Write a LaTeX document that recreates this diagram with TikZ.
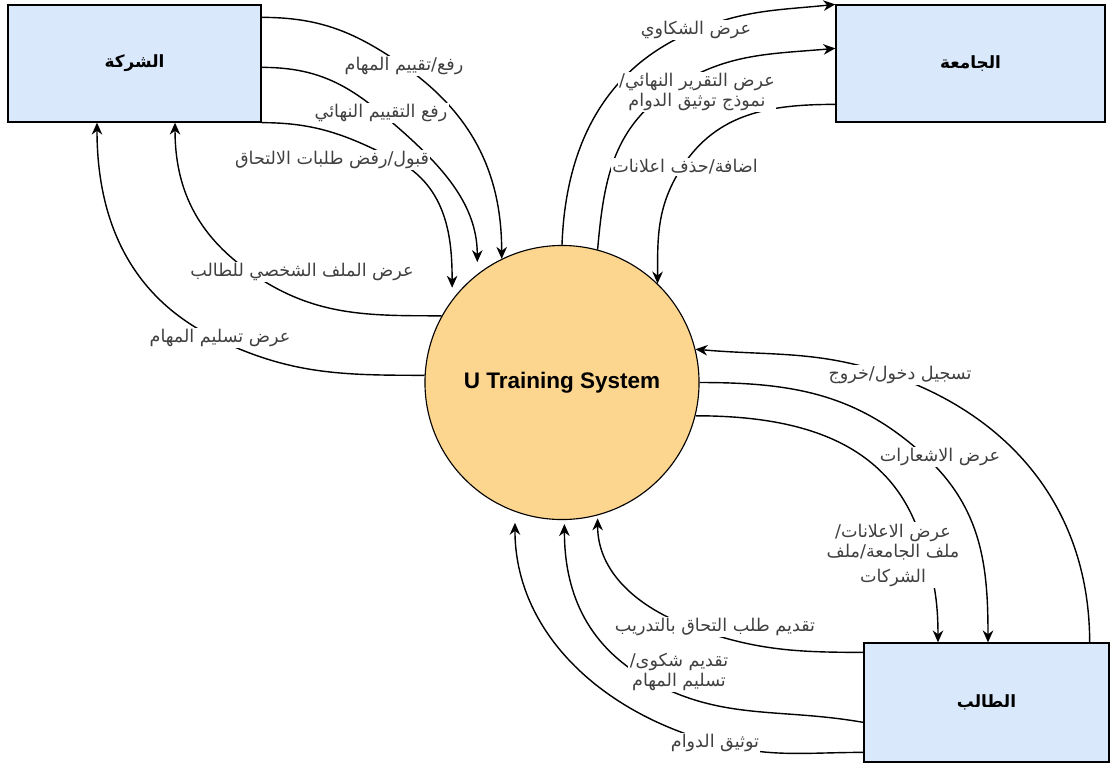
\documentclass[tikz,border=0pt]{standalone}
\usepackage{fontspec}
\setmainfont{Liberation Sans}
\newfontfamily\arabicfont[Script=Arabic]{DejaVu Sans}
\TeXXeTstate=1
\usetikzlibrary{arrows.meta,backgrounds}
\definecolor{entityblue}{RGB}{218,232,252}
\definecolor{processorange}{RGB}{252,213,143}
\newcommand{\artext}[1]{{\arabicfont\beginR #1\endR}}
\begin{document}
\begin{tikzpicture}[x=0.025cm,y=0.025cm,
    entity/.style={draw,fill=entityblue,line width=0.9pt,font=\arabicfont\bfseries\fontsize{12}{14}\selectfont},
    process/.style={draw,circle,fill=processorange,line width=0.8pt,inner sep=0pt,minimum size=6.85cm,font=\bfseries\fontsize{16}{19}\selectfont},
    flowlabel/.style={fill=white,inner sep=1pt,align=center,text=black!75,font=\arabicfont\fontsize{12.5}{14.5}\selectfont},
    flow/.style={line width=1pt,-{Stealth[length=8.5pt,width=7.5pt]}}]
    \useasboundingbox (0,0) rectangle (1111,-765);
    \node[entity,minimum width=6.325cm,minimum height=2.925cm] (co) at (134.5,-63.5) {\artext{الشركة}};
    \node[entity,minimum width=6.725cm,minimum height=2.925cm] (uni) at (970.5,-63.5) {\artext{الجامعة}};
    \node[entity,minimum width=6.125cm,minimum height=2.975cm] (stu) at (986.5,-702.5) {\artext{الطالب}};
    \node[process] (sys) at (562,-382.5) {U Training System};
    \node[flowlabel] (l1) at (404,-66) {\artext{رفع/تقييم المهام}};
    \node[flowlabel] (l2) at (381,-113) {\artext{رفع التقييم النهائي}};
    \node[flowlabel] (l3) at (332,-160) {\artext{قبول/رفض طلبات الالتحاق}};
    \node[flowlabel] (l4) at (302,-272) {\artext{عرض الملف الشخصي للطالب}};
    \node[flowlabel] (l5) at (220,-338) {\artext{عرض تسليم المهام}};
    \node[flowlabel] (l6) at (696,-30) {\artext{عرض الشكاوي}};
    \node[flowlabel] (l7) at (697,-92) {\artext{عرض التقرير النهائي/}\\\artext{نموذج توثيق الدوام}};
    \node[flowlabel] (l8) at (685,-167) {\artext{اضافة/حذف اعلانات}};
    \node[flowlabel] (l9) at (900,-375) {\artext{تسجيل دخول/خروج}};
    \node[flowlabel] (l10) at (940,-457) {\artext{عرض الاشعارات}};
    \node[flowlabel] (l11) at (893,-555) {\artext{عرض الاعلانات/}\\\artext{ملف الجامعة/ملف}\\[3pt]\artext{الشركات}};
    \node[flowlabel] (l12) at (715,-627) {\artext{تقديم طلب التحاق بالتدريب}};
    \node[flowlabel] (l13) at (679,-672) {\artext{تقديم شكوى/}\\\artext{تسليم المهام}};
    \node[flowlabel] (l14) at (715,-743) {\artext{توثيق الدوام}};
    \begin{scope}[on background layer]
        \draw[flow] ([yshift=-0.325cm]co.north east) to[out=0,in=145] (l1.center) to[out=-35,in=90] (sys.116);
        \draw[flow,shorten >=0.3cm] ([yshift=-1.575cm]co.north east) to[out=0,in=140] (l2.center) to[out=-40,in=90] (sys.128);
        \draw[flow,shorten >=0.3cm] (co.south east) to[out=0,in=153] ([xshift=1.6cm]l3.center) to[out=-27,in=90] (sys.143);
        \draw[flow] (sys.151) to[out=180,in=-35] ([xshift=-1.3cm]l4.center) to[out=145,in=-90] ([xshift=1.0125cm]co.south);
        \draw[flow] (sys.177) to[out=180,in=-26] ([xshift=-0.125cm]l5.center) to[out=154,in=-90] ([xshift=-0.9375cm]co.south);
        \draw[flow] (sys.90) to[out=88,in=-158] (l6.center) to[out=22,in=186] (uni.north west);
        \draw[flow] (sys.75) to[out=85,in=-145] ([xshift=-0.75cm]l7.center) to[out=35,in=185] ([yshift=-1.1cm]uni.north west);
        \draw[flow] ([yshift=-2.5cm]uni.north west) to[out=180,in=57] ([xshift=-0.075cm]l8.center) to[out=237,in=90] (sys.46);
        \draw[flow] ([xshift=-0.5cm]stu.north east) to[out=90,in=-19] ([xshift=-0.225cm]l9.center) to[out=161,in=-5] (sys.14);
        \draw[flow] (sys.0) to[out=0,in=137] ([xshift=-0.35cm]l10.center) to[out=-43,in=90] ([xshift=0.0375cm]stu.north);
        \draw[flow] (sys.-14) to[out=0,in=110] ([xshift=0.625cm,yshift=0.625cm]l11.center) to[out=-70,in=90] ([xshift=-1.2125cm]stu.north);
        \draw[flow,shorten >=0.075cm] ([yshift=-0.25cm]stu.north west) to[out=180,in=-20] ([xshift=-0.6cm]l12.center) to[out=160,in=-90] (sys.285);
        \draw[flow,shorten >=0.1cm] ([yshift=-2cm]stu.north west) to[out=170,in=-30] ([xshift=-0.85cm,yshift=-0.15cm]l13.center) to[out=150,in=-90] (sys.271);
        \draw[flow,shorten >=0.275cm] ([yshift=-2.75cm]stu.north west) to[out=180,in=-15] (l14.center) to[out=165,in=-90] (sys.250);
    \end{scope}
\end{tikzpicture}
\end{document}
